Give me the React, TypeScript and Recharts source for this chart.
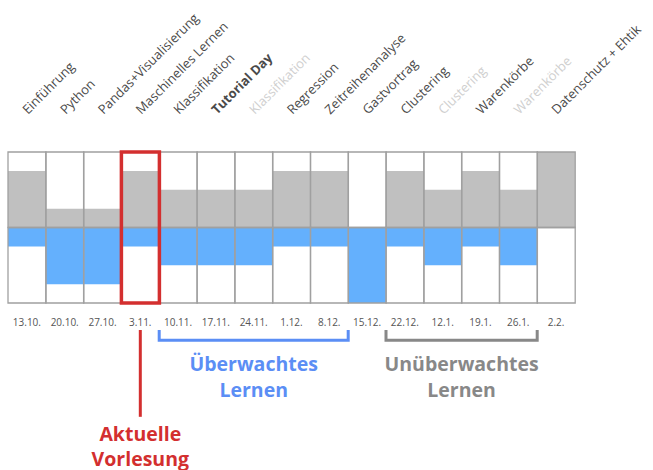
import React from "react";
import { BarChart, Bar, XAxis, YAxis, ReferenceArea } from "recharts";

const dates = ["13.10.", "20.10.", "27.10.", "3.11.", "10.11.", "17.11.", "24.11.", "1.12.", "8.12.", "15.12.", "22.12.", "12.1.", "19.1.", "26.1.", "2.2."];
const topics = ["Einführung", "Python", "Pandas+Visualisierung", "Maschinelles Lernen", "Klassifikation", "Tutorial Day", "Klassifikation", "Regression", "Zeitreihenanalyse", "Gastvortrag", "Clustering", "Clustering", "Warenkörbe", "Warenkörbe", "Datenschutz + Ehtik"];
const topicKind = ["normal", "normal", "normal", "normal", "normal", "highlight", "repeat", "normal", "normal", "normal", "normal", "repeat", "normal", "repeat", "normal"];
const grayValues = [3, 1, 1, 3, 2, 2, 2, 3, 3, 0, 3, 2, 3, 2, 4];
const blueValues = [1, 3, 3, 1, 2, 2, 2, 1, 1, 4, 1, 2, 1, 2, 0];
const scaleMax = 4;

const currentIndex = 3;
const supervised = { from: 4, to: 8, lines: ["Überwachtes", "Lernen"] };
const unsupervised = { from: 10, to: 13, lines: ["Unüberwachtes", "Lernen"] };
const currentLabel = ["Aktuelle", "Vorlesung"];

const data = dates.map((d, i) => ({
  date: d,
  g: grayValues[i],
  b: -blueValues[i],
  frameTop: scaleMax,
  frameBottom: -scaleMax,
  current: i === currentIndex ? [-scaleMax, scaleMax] : null,
}));

const W = 653;
const H = 470;
const MARGIN = { top: 152, right: 78, bottom: 137, left: 8 };
const AXIS_H = 30;
const PLOT_BOTTOM = H - MARGIN.bottom - AXIS_H;
const FONT = "'Open Sans', 'Noto Sans', sans-serif";

const BLUE = "#5b8ef5";
const GRAY = "#888888";
const RED = "#d32f2f";
const FRAME = "#a0a0a0";

const Tick = (props: any) => {
  const { x, payload } = props;
  const i = payload.index;
  const kind = topicKind[i];
  const tx = x + 1;
  const ty = MARGIN.top - 37;
  return (
    <g>
      <text x={x} y={PLOT_BOTTOM + 23} textAnchor="middle" fontSize={10} fill="#555" fontFamily={FONT}>
        {payload.value}
      </text>
      <text
        x={tx}
        y={ty}
        transform={`rotate(-45, ${tx}, ${ty})`}
        textAnchor="start"
        fontSize={13}
        fontFamily={FONT}
        fontWeight={kind === "highlight" ? 700 : 400}
        fill={kind === "repeat" ? "#cfcfcf" : "#4a4a4a"}
      >
        {topics[i]}
      </text>
    </g>
  );
};

const bracketShape = (color: string, lines: string[]) => (p: any) => {
  const { x, y, width, height } = p;
  const bottom = y + height;
  const cx = x + width / 2;
  return (
    <g>
      <path
        d={`M${x},${y} L${x},${bottom} L${x + width},${bottom} L${x + width},${y}`}
        fill="none"
        stroke={color}
        strokeWidth={3}
      />
      {lines.map((l, k) => (
        <text key={k} x={cx} y={bottom + 31 + k * 26} textAnchor="middle" fontSize={19.5} fontWeight={700} fill={color} fontFamily={FONT}>
          {l}
        </text>
      ))}
    </g>
  );
};

const pointerShape = (p: any) => {
  const { x, y, width, height } = p;
  const cx = x + width / 2;
  const bottom = y + height;
  return (
    <g>
      <line x1={cx} y1={y} x2={cx} y2={bottom} stroke={RED} strokeWidth={3} />
      {currentLabel.map((l, k) => (
        <text key={k} x={cx} y={bottom + 24 + k * 25} textAnchor="middle" fontSize={19.5} fontWeight={700} fill={RED} fontFamily={FONT}>
          {l}
        </text>
      ))}
    </g>
  );
};

export default function App() {
  return (
    <div style={{ position: "absolute", left: 0, top: 0, width: W, height: H }}>
      <BarChart width={W} height={H} data={data} margin={MARGIN} barCategoryGap={0} stackOffset="sign">
        <XAxis dataKey="date" height={AXIS_H} axisLine={false} tickLine={false} interval={0} tick={<Tick />} />
        <XAxis xAxisId="frame" dataKey="date" hide />
        <XAxis xAxisId="current" dataKey="date" hide />
        <YAxis hide domain={[-scaleMax, scaleMax]} />
        <Bar dataKey="g" stackId="s" fill="#c0c0c0" isAnimationActive={false} />
        <Bar dataKey="b" stackId="s" fill="#64b0fd" isAnimationActive={false} />
        <Bar xAxisId="frame" dataKey="frameTop" stackId="f" fill="none" stroke={FRAME} strokeWidth={1.3} isAnimationActive={false} />
        <Bar xAxisId="frame" dataKey="frameBottom" stackId="f" fill="none" stroke={FRAME} strokeWidth={1.3} isAnimationActive={false} />
        <Bar xAxisId="current" dataKey="current" fill="none" stroke={RED} strokeWidth={3.5} isAnimationActive={false} />
        <ReferenceArea
          x1={dates[supervised.from]}
          x2={dates[supervised.to]}
          y1={-5.98}
          y2={-5.43}
          ifOverflow="visible"
          shape={bracketShape(BLUE, supervised.lines)}
        />
        <ReferenceArea
          x1={dates[unsupervised.from]}
          x2={dates[unsupervised.to]}
          y1={-5.98}
          y2={-5.43}
          ifOverflow="visible"
          shape={bracketShape(GRAY, unsupervised.lines)}
        />
        <ReferenceArea
          x1={dates[currentIndex]}
          x2={dates[currentIndex]}
          y1={-10.03}
          y2={-5.43}
          ifOverflow="visible"
          shape={pointerShape}
        />
      </BarChart>
    </div>
  );
}
